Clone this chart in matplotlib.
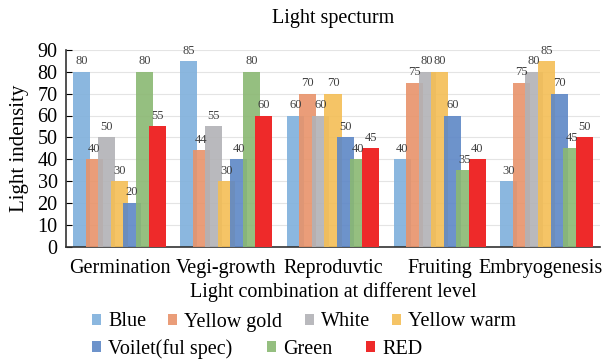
import matplotlib.pyplot as plt
import numpy as np
from matplotlib.patches import Patch
from matplotlib.transforms import ScaledTranslation

categories = ['Germination', 'Vegi-growth', 'Reproduvtic', 'Fruiting', 'Embryogenesis']
series = ['Blue', 'Yellow gold', 'White', 'Yellow warm', 'Voilet(ful spec)', 'Green', 'RED']
blue = [80, 85, 60, 40, 30]
yellow_gold = [40, 44, 70, 75, 75]
white = [50, 55, 60, 80, 80]
yellow_warm = [30, 30, 70, 80, 85]
voilet = [20, 40, 50, 60, 70]
green = [80, 80, 40, 35, 45]
red = [55, 60, 45, 40, 50]
values = [blue, yellow_gold, white, yellow_warm, voilet, green, red]
colors = ['#7fb0dc', '#e8936a', '#b2b2b6', '#f4be55', '#5d87c6', '#8ab872', '#ee2a2a']
alphas = [0.9, 0.9, 0.9, 0.9, 0.9, 0.9, 1.0]

plt.rcParams['font.family'] = 'Liberation Serif'

fig = plt.figure(figsize=(6.03, 3.59), dpi=100)
ax = fig.add_axes([66 / 603, 1 - 246.5 / 359, (600 - 66) / 603, (246.5 - 50) / 359])

x = np.arange(len(categories))
pitch = 0.1176
width = 0.16
for i, (name, vals) in enumerate(zip(series, values)):
    pos = x + (i - 3) * pitch
    bars = ax.bar(pos, vals, width, color=colors[i], alpha=alphas[i], label=name, zorder=2 + i)
    for b, v in zip(bars, vals):
        ax.text(b.get_x() + b.get_width() / 2, v + 2, str(v), ha='center', va='bottom',
                fontsize=9, color='#404040', zorder=20)

ax.set_xlim(-0.5, len(categories) - 0.5)
ax.set_ylim(0, 90)
ax.set_yticks(range(0, 91, 10))
ax.tick_params(axis='y', direction='in', length=4, labelsize=14.5, pad=6)
ax.tick_params(axis='x', length=0, labelsize=14.5, pad=9)
ax.set_xticks(x)
ax.set_xticklabels(categories)
# last label pulled in a bit so it fits like in the original
last = ax.get_xticklabels()[-1]
last.set_transform(last.get_transform() + ScaledTranslation(-6 / 100, 0, fig.dpi_scale_trans))
ax.yaxis.grid(True, color='#e4e4e4', linewidth=0.8, zorder=0)
ax.set_axisbelow(True)
for s in ['top', 'right']:
    ax.spines[s].set_visible(False)
ax.spines['left'].set_color('#333333')
ax.spines['bottom'].set_color('#333333')
ax.spines['left'].set_linewidth(1.2)
ax.spines['bottom'].set_linewidth(1.2)

ax.set_ylabel('Light indensity', fontsize=15, labelpad=6)
ax.set_xlabel('Light combination at different level', fontsize=14.5, labelpad=3)
fig.text(0.5 * (66 + 600) / 603, 1 - 18 / 359, 'Light specturm', ha='center', va='center', fontsize=14.5)

handles = [Patch(facecolor=c, alpha=a) for c, a in zip(colors, alphas)]
kw = dict(frameon=False, fontsize=14.5, handlelength=0.45, handleheight=0.45,
          handletextpad=0.35, borderpad=0, borderaxespad=0)
leg1 = fig.legend(handles[:4], series[:4], loc='center left', ncol=4, columnspacing=1.1,
                  bbox_to_anchor=(92 / 603, 1 - 322 / 359), **kw)
leg2 = fig.legend(handles[4:], series[4:], loc='center left', ncol=3, columnspacing=1.7,
                  bbox_to_anchor=(92 / 603, 1 - 349 / 359), **kw)

fig.savefig('out.png', dpi=100)
